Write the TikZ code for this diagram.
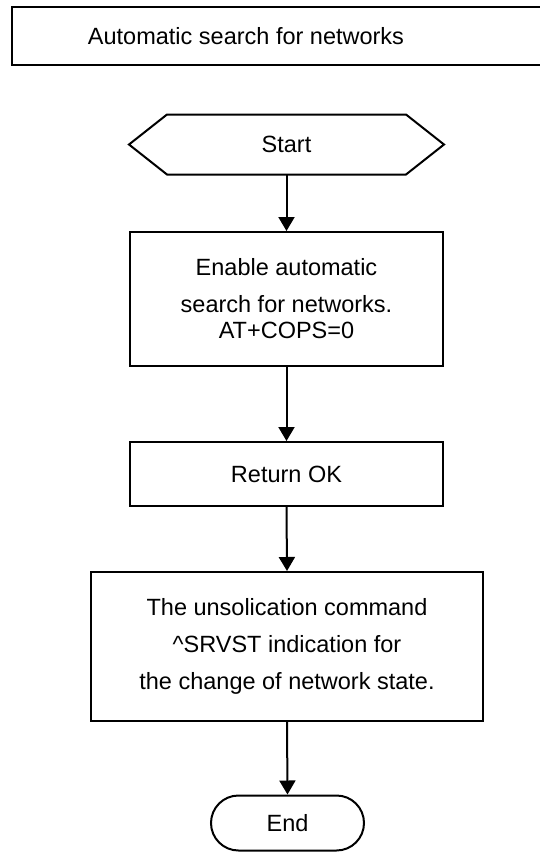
\documentclass[tikz,border=0pt]{standalone}
\usepackage{fontspec}
\setmainfont{Liberation Sans}
\usetikzlibrary{shapes.misc, arrows.meta, calc}

\begin{document}
\begin{tikzpicture}[x=1pt, y=-1pt, line width=2pt,
    txt/.style={font=\fontsize{23.5}{37}\selectfont, align=center, inner sep=0pt},
    box/.style={draw, txt, rectangle, minimum width=313pt},
    flow/.style={-{Triangle[width=16pt,length=14pt]}}]

    \useasboundingbox (0,0) rectangle (539,852);

    % Title
    \draw (12,7) rectangle (560,65);
    \node[txt] (title) at (246,36) {Automatic search for networks};

    % Start
    \node[txt, minimum width=313pt, minimum height=58pt] (start) at (286.5,144.5) {Start};
    \draw ($(start.north west)+(38,0)$) -- ($(start.north east)+(-38,0)$) -- (start.east)
        -- ($(start.south east)+(-38,0)$) -- ($(start.south west)+(38,0)$) -- (start.west) -- cycle;

    % Steps
    \node[box, minimum height=134pt] (enable) at (286.5,299)
        {Enable automatic\\search for networks.\\[-11pt]AT+COPS=0};
    \node[box, minimum height=64pt] (ok) at (286.5,474) {Return OK};
    \node[box, minimum width=392pt, minimum height=149pt] (srvst) at (287,646.5)
        {The unsolication command\\\textasciicircum SRVST indication for\\the change of network state.};

    % End
    \node[draw, txt, rounded rectangle, minimum width=153pt, minimum height=55pt] (end) at (287.5,823) {End};

    % Arrows
    \draw[flow] (start.south) -- (enable.north);
    \draw[flow] (enable.south) -- (ok.north);
    \draw[flow] (ok.south) -- (srvst.north);
    \draw[flow] (srvst.south) -- (end.north);
\end{tikzpicture}
\end{document}
